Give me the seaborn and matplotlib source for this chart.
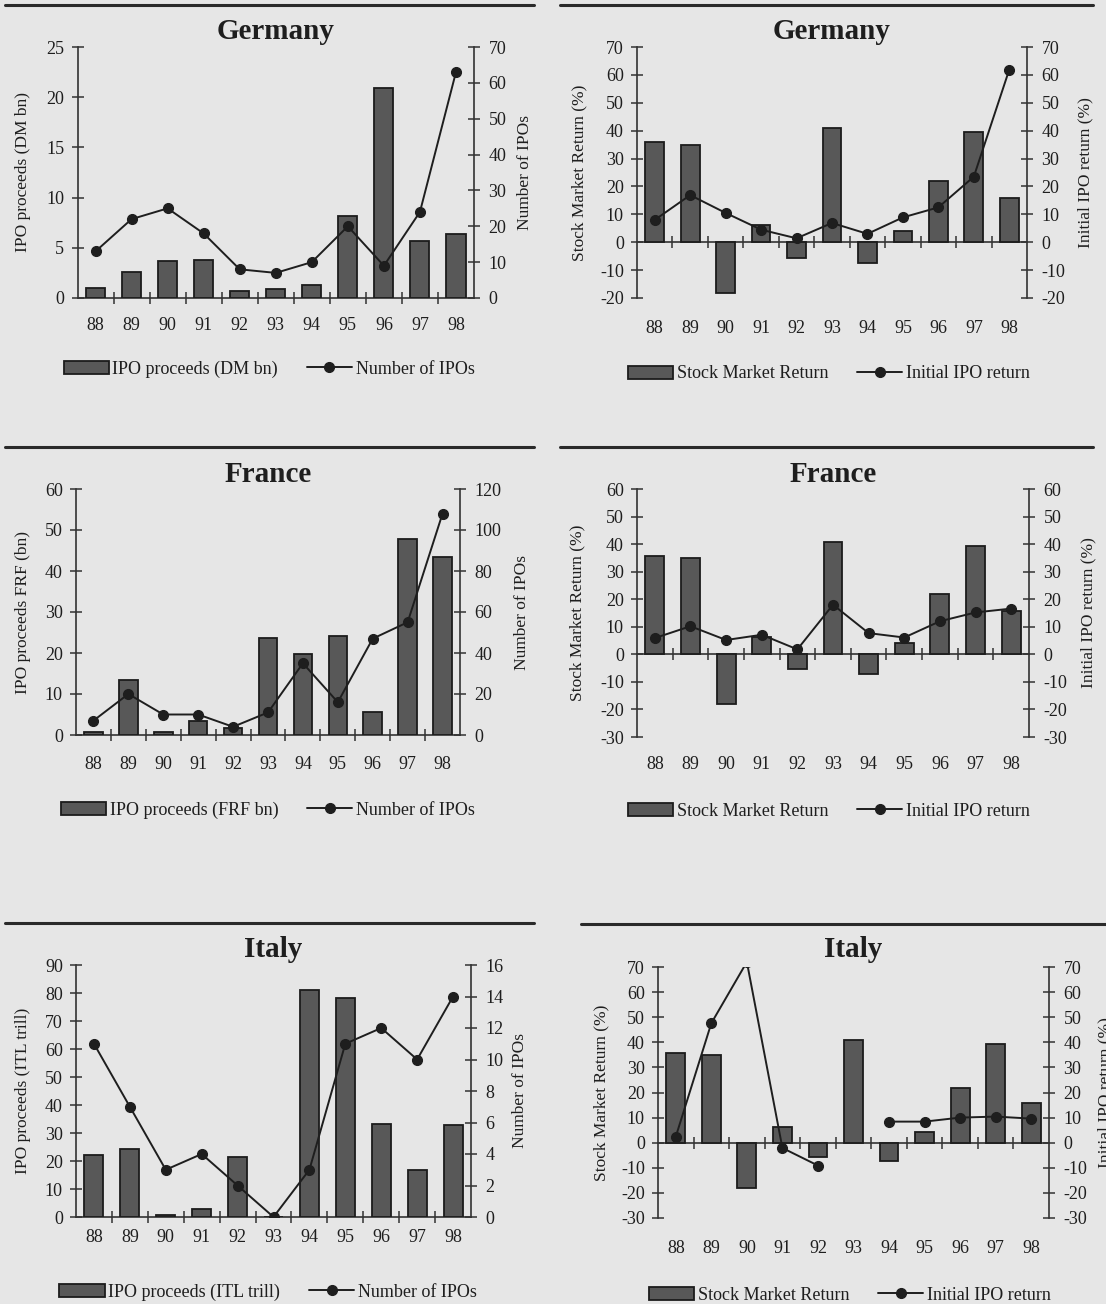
import numpy as np
import matplotlib
matplotlib.use("Agg")
import matplotlib.pyplot as plt
from matplotlib.lines import Line2D
import seaborn as sns

# ---------------------------------------------------------------- data
years = ["88", "89", "90", "91", "92", "93", "94", "95", "96", "97", "98"]

# market-wide stock return (%), shown in every country panel
stock_return = [35.8, 34.9, -18.2, 6.3, -5.5, 40.8, -7.3, 4.2, 21.8, 39.4, 15.7]

# Germany
de_proceeds = [1.0, 2.6, 3.7, 3.8, 0.7, 0.9, 1.3, 8.2, 20.9, 5.7, 6.4]
de_num_ipos = [13, 22, 25, 18, 8, 7, 10, 20, 9, 24, 63]
de_initial_return = [8.0, 16.9, 10.5, 4.5, 1.4, 6.9, 3.0, 8.9, 12.5, 23.5, 61.9]

# France
fr_proceeds = [0.7, 13.3, 0.7, 3.4, 1.6, 23.6, 19.8, 24.1, 5.6, 47.9, 43.3]
fr_num_ipos = [7, 20, 10, 10, 4, 11, 35, 16, 47, 55, 108]
fr_initial_return = [5.9, 10.2, 5.2, 7.1, 1.8, 18.0, 7.7, 6.1, 12.0, 15.2, 16.6]

# Italy (no IPOs in 1993, so no initial return that year)
it_proceeds = [22.3, 24.4, 0.8, 2.9, 21.5, 0.0, 80.9, 78.1, 33.3, 16.8, 32.8]
it_num_ipos = [11, 7, 3, 4, 2, 0, 3, 11, 12, 10, 14]
it_initial_return = [2.4, 47.6, 72.0, -2.1, -9.1, np.nan, 8.4, 8.4, 10.0, 10.4, 9.6]

# ---------------------------------------------------------------- style
W, H = 1106, 1304
BG = "#e6e6e6"
BAR = "#585858"
EDGE = "#1c1c1c"
INK = "#1e1e1e"
AXC = "#333333"

sns.set_theme(style="white")
plt.rcParams["font.family"] = ["Liberation Serif", "DejaVu Serif"]
plt.rcParams["axes.unicode_minus"] = False
plt.rcParams["text.color"] = INK
plt.rcParams["axes.labelcolor"] = INK
plt.rcParams["xtick.color"] = INK
plt.rcParams["ytick.color"] = INK

fig = plt.figure(figsize=(W / 100, H / 100), dpi=100, facecolor=BG)


def px_rect(l, r, t, b):
    return [l / W, 1 - b / H, (r - l) / W, (b - t) / H]


def rule(x0, x1, y):
    fig.add_artist(Line2D([x0 / W, x1 / W], [1 - y / H, 1 - y / H],
                          transform=fig.transFigure, color="#2a2a2a", lw=2.2))


def panel(box, title, bars, line, bar_label, line_label,
          lim_l, ticks_l, lim_r, ticks_r, ylab_l, ylab_r,
          lab_l_px, lab_r_px, legend_xy, title_pad, xpad):
    l, r, t, b = box
    ax = fig.add_axes(px_rect(l, r, t, b))
    ax.set_facecolor("none")
    sns.barplot(x=years, y=bars, ax=ax, color=BAR, edgecolor=EDGE,
                linewidth=1.3, width=0.53, saturation=1)
    ax.set_xlim(-0.5, len(years) - 0.5)
    ax.set_ylim(*lim_l)
    ax.set_yticks(ticks_l)
    ax.set_xlabel("")
    ax.set_ylabel(ylab_l, fontsize=12.5)
    ax.yaxis.set_label_coords((lab_l_px - l) / (r - l), 0.5)

    for s in ("top", "right", "bottom"):
        ax.spines[s].set_visible(False)
    ax.spines["left"].set_color(AXC)
    ax.spines["left"].set_linewidth(1.2)
    ax.tick_params(axis="y", direction="inout", length=9, width=1.1,
                   color=AXC, pad=5, labelsize=13, left=True)
    ax.tick_params(axis="x", length=0, pad=xpad, labelsize=13)
    ax.set_title(title, fontsize=21, fontweight="bold", pad=title_pad)

    # category axis running through zero, with ticks between categories
    zero = (0 - lim_l[0]) / (lim_l[1] - lim_l[0])
    sec = ax.secondary_xaxis(zero)
    sec.set_xticks(np.arange(0.5, len(years) - 1, 1.0))
    sec.tick_params(axis="x", direction="inout", length=8, width=1.1,
                    color=AXC, labelbottom=False, labeltop=False)
    for s in sec.spines.values():
        s.set_color(AXC)
        s.set_linewidth(1.2)

    ax2 = ax.twinx()
    ln, = ax2.plot(np.arange(len(years)), line, color=INK, lw=1.4,
                   marker="o", ms=7, mfc=INK, mec=INK)
    ax2.set_ylim(*lim_r)
    ax2.set_yticks(ticks_r)
    for s in ("top", "left", "bottom"):
        ax2.spines[s].set_visible(False)
    ax2.spines["right"].set_color(AXC)
    ax2.spines["right"].set_linewidth(1.2)
    ax2.tick_params(axis="y", direction="inout", length=9, width=1.1,
                    color=AXC, pad=6, labelsize=13, right=True)
    ax2.set_ylabel(ylab_r, fontsize=12.5)
    ax2.yaxis.set_label_coords((lab_r_px - l) / (r - l), 0.5)
    ax2.grid(False)
    ax.grid(False)

    bar_handle = ax.containers[0].patches[0]
    ax.legend([bar_handle, ln], [bar_label, line_label], ncol=2,
              frameon=False, fontsize=13, handlelength=2.5,
              handleheight=0.75, handletextpad=0.2, columnspacing=1.6,
              loc="center",
              bbox_to_anchor=(legend_xy[0] / W, 1 - legend_xy[1] / H),
              bbox_transform=fig.transFigure)
    return ax, ax2


# ---------------------------------------------------------------- rules
rule(5, 534, 5)
rule(560, 1093, 5)
rule(5, 534, 447)
rule(560, 1093, 447)
rule(5, 534, 923)
rule(581, 1106, 924)

# ---------------------------------------------------------------- panels
panel((77.5, 474, 47, 298), "Germany", de_proceeds, de_num_ipos,
      "IPO proceeds (DM bn)", "Number of IPOs",
      (0, 25), range(0, 26, 5), (0, 70), range(0, 71, 10),
      "IPO proceeds (DM bn)", "Number of IPOs",
      31, 517, (269, 369), 6, 14)

panel((637, 1027, 47, 298), "Germany", stock_return, de_initial_return,
      "Stock Market Return", "Initial IPO return",
      (-20, 70), range(-20, 71, 10), (-20, 70), range(-20, 71, 10),
      "Stock Market Return (%)", "Initial IPO return (%)",
      587, 1077, (829, 374), 6, 16)

panel((76, 460, 489, 735), "France", fr_proceeds, fr_num_ipos,
      "IPO proceeds (FRF bn)", "Number of IPOs",
      (0, 60), range(0, 61, 10), (0, 120), range(0, 121, 20),
      "IPO proceeds FRF (bn)", "Number of IPOs",
      31, 513.5, (268, 810), 5, 15)

panel((637, 1029, 489, 737), "France", stock_return, fr_initial_return,
      "Stock Market Return", "Initial IPO return",
      (-30, 60), range(-30, 61, 10), (-30, 60), range(-30, 61, 10),
      "Stock Market Return (%)", "Initial IPO return (%)",
      585, 1080.5, (829, 811), 5, 14)

panel((76, 471, 965, 1217), "Italy", it_proceeds, it_num_ipos,
      "IPO proceeds (ITL trill)", "Number of IPOs",
      (0, 90), range(0, 91, 10), (0, 16), range(0, 17, 2),
      "IPO proceeds (ITL trill)", "Number of IPOs",
      31, 511.5, (268, 1292), 6, 9)

panel((658, 1049, 967, 1218), "Italy", stock_return, it_initial_return,
      "Stock Market Return", "Initial IPO return",
      (-30, 70), range(-30, 71, 10), (-30, 70), range(-30, 71, 10),
      "Stock Market Return (%)", "Initial IPO return (%)",
      609, 1097, (850, 1295), 7, 16)

fig.savefig("out.png", dpi=100, facecolor=BG)
